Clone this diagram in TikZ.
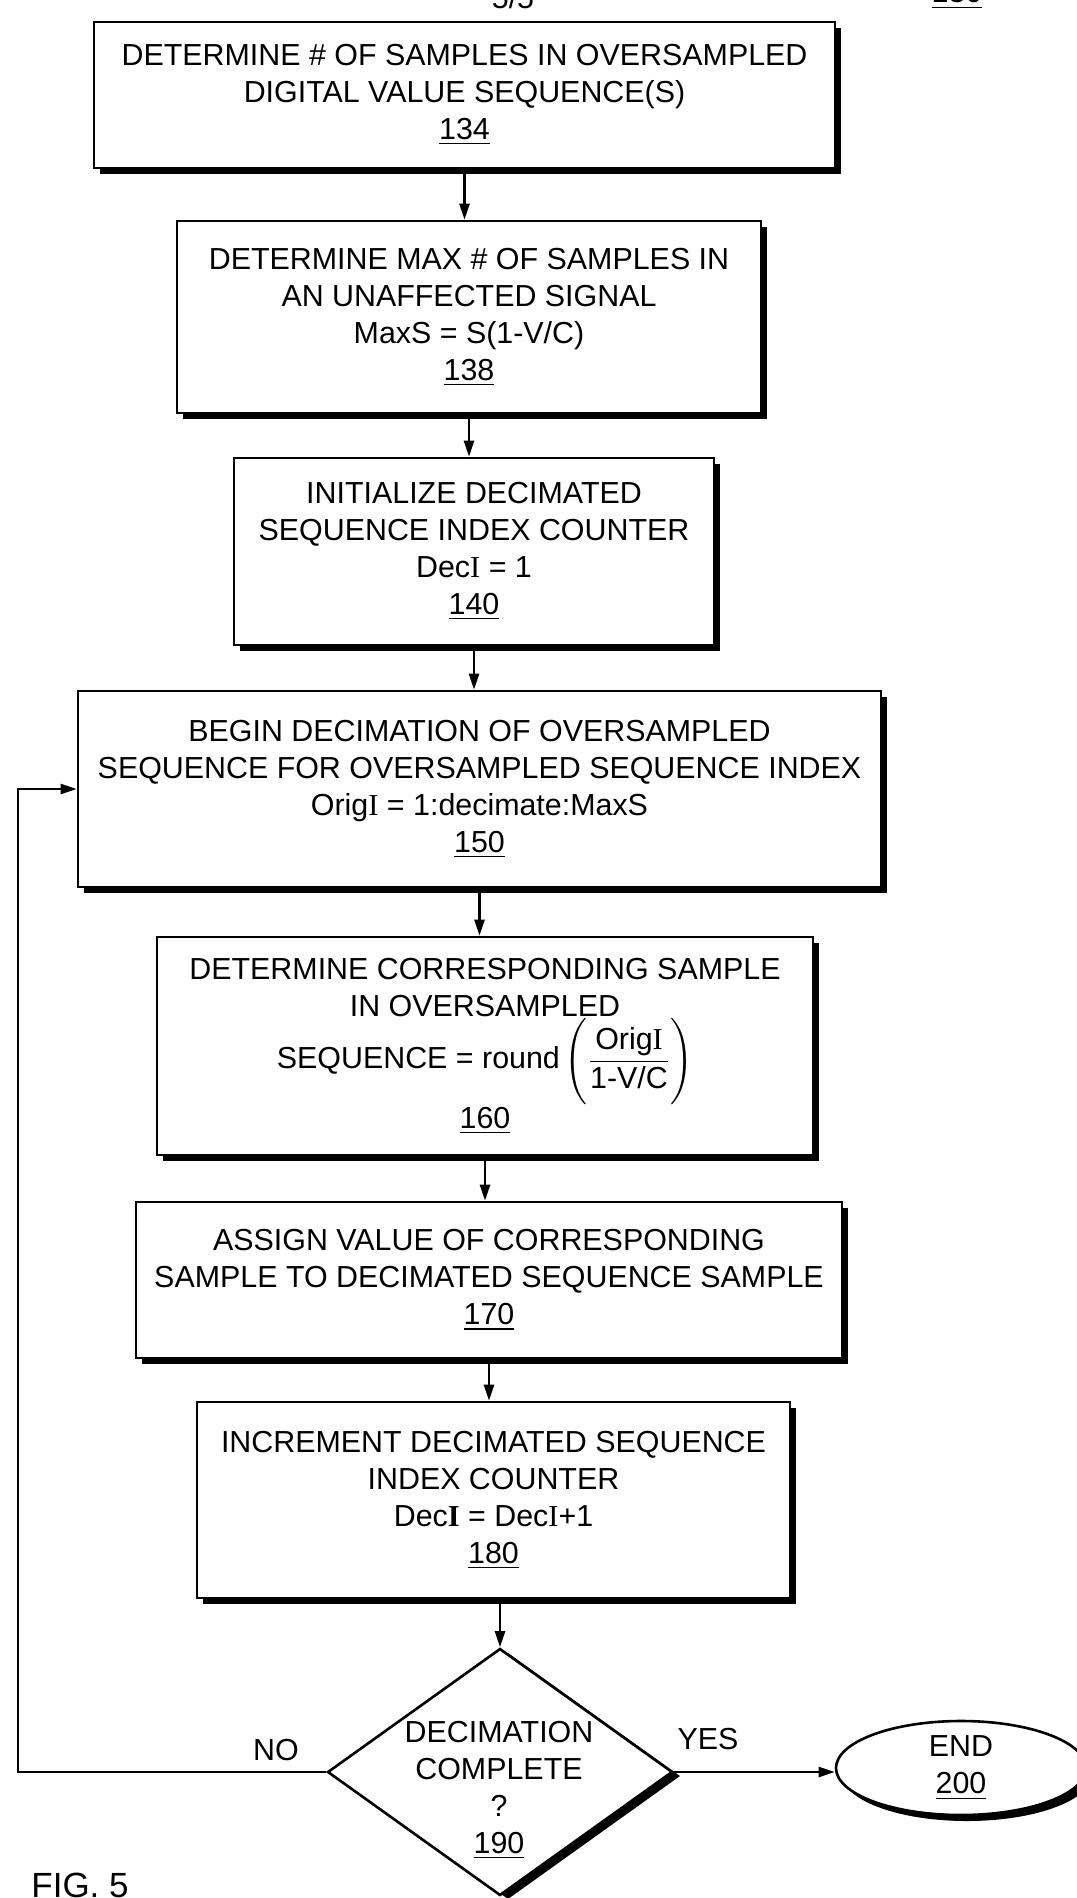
\documentclass[tikz,border=0pt]{standalone}
\usepackage{amsmath}
\usepackage{fontspec}
\setmainfont{Liberation Sans}
\newfontfamily\serifface{Liberation Serif}
\usetikzlibrary{shapes.geometric,shadows,arrows.meta}

% text size used throughout the flow chart
\newcommand\fsz{\fontsize{15.2pt}{18.5pt}\selectfont}
% underlined reference numerals
\newcommand\refnum[1]{\underline{#1}}
% serif capital I used in the variable names
\newcommand\sI{{\serifface I}}
\newcommand\sIb{{\serifface\bfseries I}}

\begin{document}
\begin{tikzpicture}[x=0.5pt,y=-0.5pt,
  every node/.style={font=\fsz},
  stepbox/.style={draw, line width=1.3pt, fill=white, align=center, inner sep=0pt,
    drop shadow={shadow xshift=3pt, shadow yshift=-3pt, fill=black, opacity=1}},
  decision/.style={shape=diamond, draw, line width=1.3pt, fill=white, inner sep=0pt,
    drop shadow={shadow xshift=4pt, shadow yshift=-2pt, fill=black, opacity=1}},
  terminal/.style={shape=ellipse, draw, line width=1.3pt, fill=white, inner sep=0pt, align=center,
    drop shadow={shadow xshift=3pt, shadow yshift=-3pt, fill=black, opacity=1}},
  arr/.style={line width=1.2pt, -{Triangle[length=8pt,width=5pt]}},
  lbl/.style={inner sep=0pt, align=center}
]
\useasboundingbox[fill=white] (0,0) rectangle (1076,1898);

% sheet number and figure reference at the top edge
\node[lbl, anchor=base] (sheet) at (513,9) {5/5};
\node[lbl, anchor=base] (figref) at (957,3) {\refnum{130}};

% process steps
\node[stepbox, minimum width=370.5pt, minimum height=73pt] (b134) at (464.5,95)
  {DETERMINE \# OF SAMPLES IN OVERSAMPLED\\DIGITAL VALUE SEQUENCE(S)\\\refnum{134}};
\node[stepbox, minimum width=292pt, minimum height=96pt] (b138) at (469,317)
  {DETERMINE MAX \# OF SAMPLES IN\\AN UNAFFECTED SIGNAL\\MaxS = S(1-V/C)\\\refnum{138}};
\node[stepbox, minimum width=240pt, minimum height=93.5pt] (b140) at (474,551.5)
  {INITIALIZE DECIMATED\\SEQUENCE INDEX COUNTER\\Dec\sI{} = 1\\\refnum{140}};
\node[stepbox, minimum width=401.5pt, minimum height=98pt] (b150) at (479.5,789)
  {BEGIN DECIMATION OF OVERSAMPLED\\SEQUENCE FOR OVERSAMPLED SEQUENCE INDEX\\Orig\sI{} = 1:decimate:MaxS\\\refnum{150}};
\node[stepbox, minimum width=328pt, minimum height=109pt] (b160) at (485,1046)
  {DETERMINE CORRESPONDING SAMPLE\\IN OVERSAMPLED\\SEQUENCE = round\,$\Bigg(\displaystyle\frac{\mbox{Orig\sI}}{\mbox{1-V/C}}\Bigg)$\\\refnum{160}};
\node[stepbox, minimum width=353pt, minimum height=78pt] (b170) at (489,1280)
  {ASSIGN VALUE OF CORRESPONDING\\SAMPLE TO DECIMATED SEQUENCE SAMPLE\\\refnum{170}};
\node[stepbox, minimum width=296.5pt, minimum height=98pt] (b180) at (493.5,1500)
  {INCREMENT DECIMATED SEQUENCE\\INDEX COUNTER\\Dec\sIb{} = Dec\sI+1\\\refnum{180}};

% decision and end
\node[decision, minimum width=172.5pt, minimum height=123.5pt] (d190) at (500,1772) {};
\node[lbl] (t190) at (499,1790) {DECIMATION\\COMPLETE\\?\\\refnum{190}};
\node[terminal, minimum width=125pt, minimum height=47pt] (e200) at (961,1768) {END\\\refnum{200}};

% main flow
\draw[arr] (b134.south) -- (b134.south |- b138.north);
\draw[arr] (b138.south) -- (b138.south |- b140.north);
\draw[arr] (b140.south) -- (b140.south |- b150.north);
\draw[arr] (b150.south) -- (b150.south |- b160.north);
\draw[arr] (b160.south) -- (b160.south |- b170.north);
\draw[arr] (b170.south) -- (b170.south |- b180.north);
\draw[arr] (b180.south -| d190.north) -- (d190.north);

% YES branch to the end, NO branch back to the loop start
\draw[arr] (d190.east) -- (d190.east -| e200.west);
\coordinate (back) at (18,1772);
\draw[arr] (d190.west) -- (back) |- (b150.west);
\node[lbl] (yes) at (708,1739) {YES};
\node[lbl] (no) at (276,1750) {NO};

% figure caption
\node[lbl, anchor=base west, font=\fontsize{17.5pt}{20pt}\selectfont] (fig) at (31,1897) {FIG. 5};
\end{tikzpicture}
\end{document}
